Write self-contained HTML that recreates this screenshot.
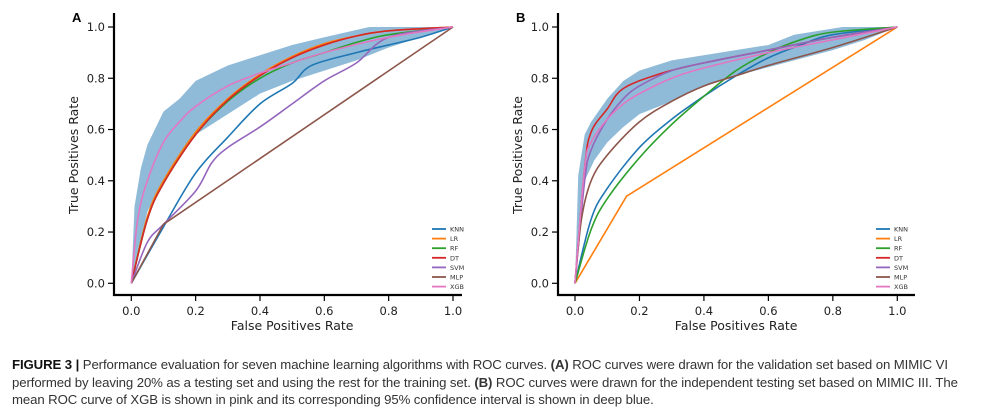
<!DOCTYPE html>
<html><head><meta charset="utf-8"><style>
body{margin:0;background:#fff;width:986px;height:417px;overflow:hidden;font-family:"Liberation Sans",sans-serif}
#cap{position:absolute;left:12px;top:356px;width:972px;font-size:13.2px;line-height:17.5px;color:#333;letter-spacing:-0.1px}
</style></head><body>
<svg id="chart" width="986" height="350" style="position:absolute;left:0;top:0" font-family="DejaVu Sans, Liberation Sans, sans-serif"></svg>
<div id="cap"><b style="color:#111">FIGURE 3 |</b> Performance evaluation for seven machine learning algorithms with ROC curves. <b>(A)</b> ROC curves were drawn for the validation set based on MIMIC VI performed by leaving 20% as a testing set and using the rest for the training set. <b>(B)</b> ROC curves were drawn for the independent testing set based on MIMIC III. The mean ROC curve of XGB is shown in pink and its corresponding 95% confidence interval is shown in deep blue.</div>
<script>
const models=["KNN","LR","RF","DT","SVM","MLP","XGB"];
const colors=["#1f77b4","#ff7f0e","#2ca02c","#d62728","#9467bd","#8c564b","#e377c2"];
const ticks=[0,0.2,0.4,0.6,0.8,1.0];
const tickLabels=["0.0","0.2","0.4","0.6","0.8","1.0"];
const seriesA={
KNN:[[0,0],[0.1,0.22],[0.2,0.43],[0.3,0.57],[0.4,0.70],[0.5,0.78],[0.56,0.85],[0.7,0.90],[0.8,0.93],[0.9,0.96],[1,1]],
LR:[[0,0],[0.05,0.26],[0.1,0.40],[0.2,0.59],[0.3,0.72],[0.4,0.815],[0.5,0.885],[0.6,0.935],[0.7,0.965],[0.8,0.985],[1,1]],
RF:[[0,0],[0.05,0.25],[0.1,0.39],[0.2,0.58],[0.3,0.71],[0.4,0.80],[0.5,0.86],[0.6,0.90],[0.7,0.94],[0.8,0.97],[1,1]],
DT:[[0,0],[0.05,0.25],[0.1,0.39],[0.2,0.58],[0.3,0.715],[0.4,0.81],[0.5,0.88],[0.6,0.93],[0.7,0.965],[0.8,0.985],[1,1]],
SVM:[[0,0],[0.05,0.16],[0.1,0.23],[0.2,0.36],[0.25,0.47],[0.3,0.53],[0.4,0.61],[0.5,0.70],[0.6,0.79],[0.7,0.86],[0.8,0.96],[1,1]],
MLP:[[0,0],[0.1,0.23],[1,1]],
XGB:[[0,0],[0.02,0.25],[0.05,0.40],[0.1,0.55],[0.15,0.63],[0.2,0.69],[0.3,0.77],[0.4,0.82],[0.5,0.86],[0.6,0.90],[0.8,0.96],[1,1]]};
const ciUpperA=[[0,0],[0.01,0.30],[0.03,0.45],[0.05,0.54],[0.1,0.67],[0.15,0.72],[0.2,0.79],[0.3,0.85],[0.4,0.89],[0.5,0.93],[0.6,0.96],[0.74,1.0],[1,1]];
const ciLowerA=[[0,0],[0.05,0.28],[0.1,0.40],[0.15,0.50],[0.2,0.58],[0.3,0.66],[0.4,0.74],[0.5,0.79],[0.6,0.83],[0.7,0.87],[0.8,0.92],[0.9,0.96],[1,1]];
const seriesB={
KNN:[[0,0],[0.05,0.25],[0.1,0.37],[0.2,0.53],[0.3,0.64],[0.4,0.73],[0.5,0.81],[0.6,0.88],[0.7,0.93],[0.8,0.97],[1,1]],
LR:[[0,0],[0.16,0.34],[1,1]],
RF:[[0,0],[0.05,0.21],[0.1,0.33],[0.2,0.49],[0.3,0.62],[0.4,0.73],[0.5,0.83],[0.6,0.90],[0.7,0.95],[0.8,0.98],[1,1]],
DT:[[0,0],[0.03,0.45],[0.05,0.59],[0.1,0.68],[0.15,0.76],[0.27,0.82],[0.4,0.86],[0.6,0.91],[0.8,0.96],[1,1]],
SVM:[[0,0],[0.03,0.40],[0.05,0.52],[0.1,0.64],[0.15,0.72],[0.2,0.77],[0.3,0.83],[0.4,0.86],[0.6,0.91],[0.8,0.96],[1,1]],
MLP:[[0,0],[0.02,0.25],[0.05,0.40],[0.1,0.50],[0.2,0.63],[0.3,0.71],[0.4,0.77],[0.5,0.81],[0.6,0.85],[0.8,0.92],[1,1]],
XGB:[[0,0],[0.03,0.45],[0.05,0.55],[0.1,0.64],[0.15,0.70],[0.2,0.74],[0.3,0.80],[0.4,0.84],[0.6,0.90],[0.8,0.95],[1,1]]};
const ciUpperB=[[0,0],[0.01,0.42],[0.03,0.58],[0.05,0.63],[0.1,0.72],[0.15,0.79],[0.2,0.83],[0.3,0.87],[0.45,0.90],[0.6,0.93],[0.68,0.97],[0.83,1],[1,1]];
const ciLowerB=[[0,0],[0.03,0.40],[0.06,0.48],[0.1,0.55],[0.15,0.61],[0.2,0.66],[0.3,0.71],[0.4,0.77],[0.5,0.81],[0.62,0.85],[0.8,0.91],[0.9,0.95],[1,1]];

const svg=document.getElementById('chart');
const NS="http://www.w3.org/2000/svg";
function mk(t,a,p){const e=document.createElementNS(NS,t);for(const k in a)e.setAttribute(k,a[k]);(p||svg).appendChild(e);return e;}
function smoothPath(P){
  if(P.length<4) return 'M'+P.map(p=>p[0]+','+p[1]).join(' L');
  let d='M'+P[0][0]+','+P[0][1];
  for(let i=0;i<P.length-1;i++){
    const p0=P[Math.max(0,i-1)],p1=P[i],p2=P[i+1],p3=P[Math.min(P.length-1,i+2)];
    const c1=[p1[0]+(p2[0]-p0[0])/6,p1[1]+(p2[1]-p0[1])/6];
    const c2=[p2[0]-(p3[0]-p1[0])/6,p2[1]-(p3[1]-p1[1])/6];
    d+=` C${c1[0]},${c1[1]} ${c2[0]},${c2[1]} ${p2[0]},${p2[1]}`;
  }
  return d;
}
function panel(id,label,x0,x1,spineL,spineR,series,up,lo,legX){
  const y0=283.3,y1=27;
  const sx=v=>x0+v*(x1-x0), sy=v=>y0+v*(y1-y0);
  const g=mk('g',{});
  
  
  const pts=up.map(p=>sx(p[0])+','+sy(p[1])).concat(lo.slice().reverse().map(p=>sx(p[0])+','+sy(p[1])));
  const band=mk('polygon',{points:pts.join(' '),fill:'#1f77b4','fill-opacity':0.5,stroke:'none'},g);
  
  
  models.forEach((m,i)=>{
    const l=mk('path',{d:smoothPath(series[m].map(p=>[sx(p[0]),sy(p[1])])),fill:'none',stroke:colors[i],'stroke-width':1.6},g);
    
    
  });
  mk('line',{x1:spineL,y1:13,x2:spineL,y2:296,stroke:'#000','stroke-width':2.2},g);
  mk('line',{x1:spineL-1,y1:295,x2:spineR,y2:295,stroke:'#000','stroke-width':2.2},g);
  ticks.forEach((t,i)=>{
    mk('line',{x1:sx(t),y1:296,x2:sx(t),y2:301,stroke:'#000','stroke-width':1.2},g);
    const tx=mk('text',{x:sx(t),y:315,'text-anchor':'middle','font-size':11.5,fill:'#222'},g);tx.textContent=tickLabels[i];
    
    mk('line',{x1:spineL-6,y1:sy(t),x2:spineL-1,y2:sy(t),stroke:'#000','stroke-width':1.2},g);
    const ty=mk('text',{x:spineL-9,y:sy(t)+4,'text-anchor':'end','font-size':11.5,fill:'#222'},g);ty.textContent=tickLabels[i];
    
  });
  const xt=mk('text',{x:(x0+x1)/2,y:330,'text-anchor':'middle','font-size':12.5,fill:'#222'},g);xt.textContent='False Positives Rate';
  
  const cx=spineL-36;
  const yt=mk('text',{x:cx,y:155,'text-anchor':'middle','font-size':12.5,fill:'#222',transform:`rotate(-90 ${cx} 155)`},g);yt.textContent='True Positives Rate';
  
  const pl=mk('text',{x:spineL-42,y:22,'font-size':13,'font-weight':'bold','font-family':'Liberation Sans, sans-serif',fill:'#000'},g);pl.textContent=label;
  
  models.forEach((m,i)=>{
    const yy=229+i*9.6;
    const lg=mk('g',{},g);
    
    
    mk('line',{x1:legX,y1:yy,x2:legX+14,y2:yy,stroke:colors[i],'stroke-width':1.8},lg);
    const t=mk('text',{x:legX+18,y:yy+2.5,'font-size':6.5,fill:'#333'},lg);t.textContent=m;
  });
}
panel('a','A',131.3,453,114,462,seriesA,ciUpperA,ciLowerA,432);
panel('b','B',575,897.3,558,915,seriesB,ciUpperB,ciLowerB,876);
</script>
</body></html>
